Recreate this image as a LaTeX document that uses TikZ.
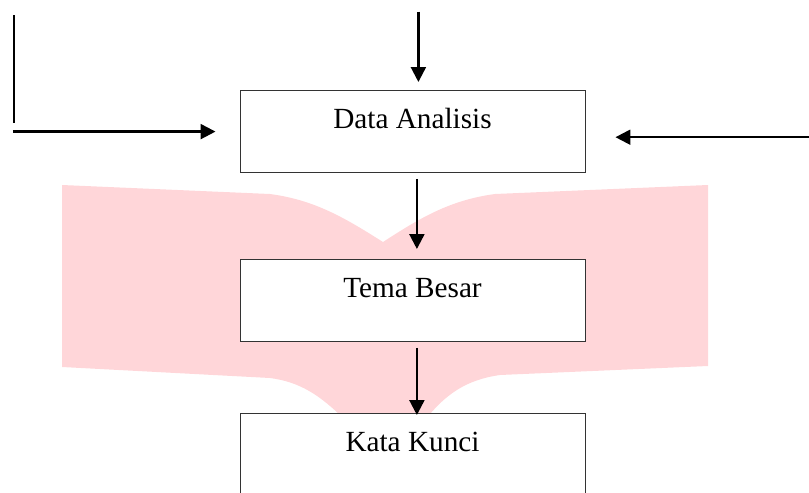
\documentclass[tikz,border=0pt]{standalone}
\usepackage{fontspec}
\setmainfont{Liberation Serif}
\usetikzlibrary{arrows.meta}

\definecolor{bookpink}{RGB}{255,214,217}

\begin{document}
\begin{tikzpicture}[
        stage/.style={rectangle, draw=black!80, line width=0.7pt, fill=white, inner sep=0pt,
            minimum width=8.625cm, text height=0.96cm, text depth=1.09cm, anchor=north,
            font=\fontsize{20.8}{25}\selectfont},
        flow/.style={line width=1.6pt, -{Triangle[length=10.5pt, width=10.5pt]}}
    ]
        \useasboundingbox (0,0) rectangle (20.225,-12.325);

        % Book shape in the background
        \fill[bookpink] (1.55,-4.625) -- (6.75,-4.85)
            .. controls (7.875,-5.0) and (8.625,-5.45) .. (9.575,-6.05)
            .. controls (10.5,-5.45) and (11.25,-5.0) .. (12.375,-4.85)
            -- (17.7,-4.625) -- (17.7,-9.15) -- (12.5,-9.375)
            .. controls (11.625,-9.5) and (11.125,-9.875) .. (10.625,-10.5)
            -- (9.575,-11.25) -- (8.625,-10.5)
            .. controls (8.0,-9.875) and (7.5,-9.55) .. (6.75,-9.45)
            -- (1.55,-9.175) -- cycle;

        % Nodes
        \node[stage] (data) at (10.3125,-2.25) {Data Analisis};
        \node[stage] (tema) at (10.3125,-6.475) {Tema Besar};
        \node[stage] (kata) at (10.3125,-10.325) {Kata Kunci};

        \coordinate (top) at (10.46,-0.29);
        \coordinate (lefttop) at (0.35,-0.375);
        \coordinate (leftbot) at (0.35,-3.075);
        \coordinate (leftin) at (0.325,-3.29);
        \coordinate (rightin) at (20.225,-3.43);

        % Edges
        \draw[flow, shorten >=0.2cm] (top) -- (top |- data.north);
        \draw[flow, shorten <=0.15cm, shorten >=0.25cm] ([xshift=0.11cm]data.south) -- ([xshift=0.11cm]tema.north);
        \draw[flow, shorten <=0.15cm, shorten >=-0.05cm] ([xshift=0.11cm]tema.south) -- ([xshift=0.11cm]kata.north);
        \draw[line width=1.6pt] (lefttop) -- (leftbot);
        \draw[flow, shorten >=0.6cm] (leftin) -- (leftin -| data.west);
        \draw[flow, shorten >=0.75cm] (rightin) -- (rightin -| data.east);

    \end{tikzpicture}
\end{document}
